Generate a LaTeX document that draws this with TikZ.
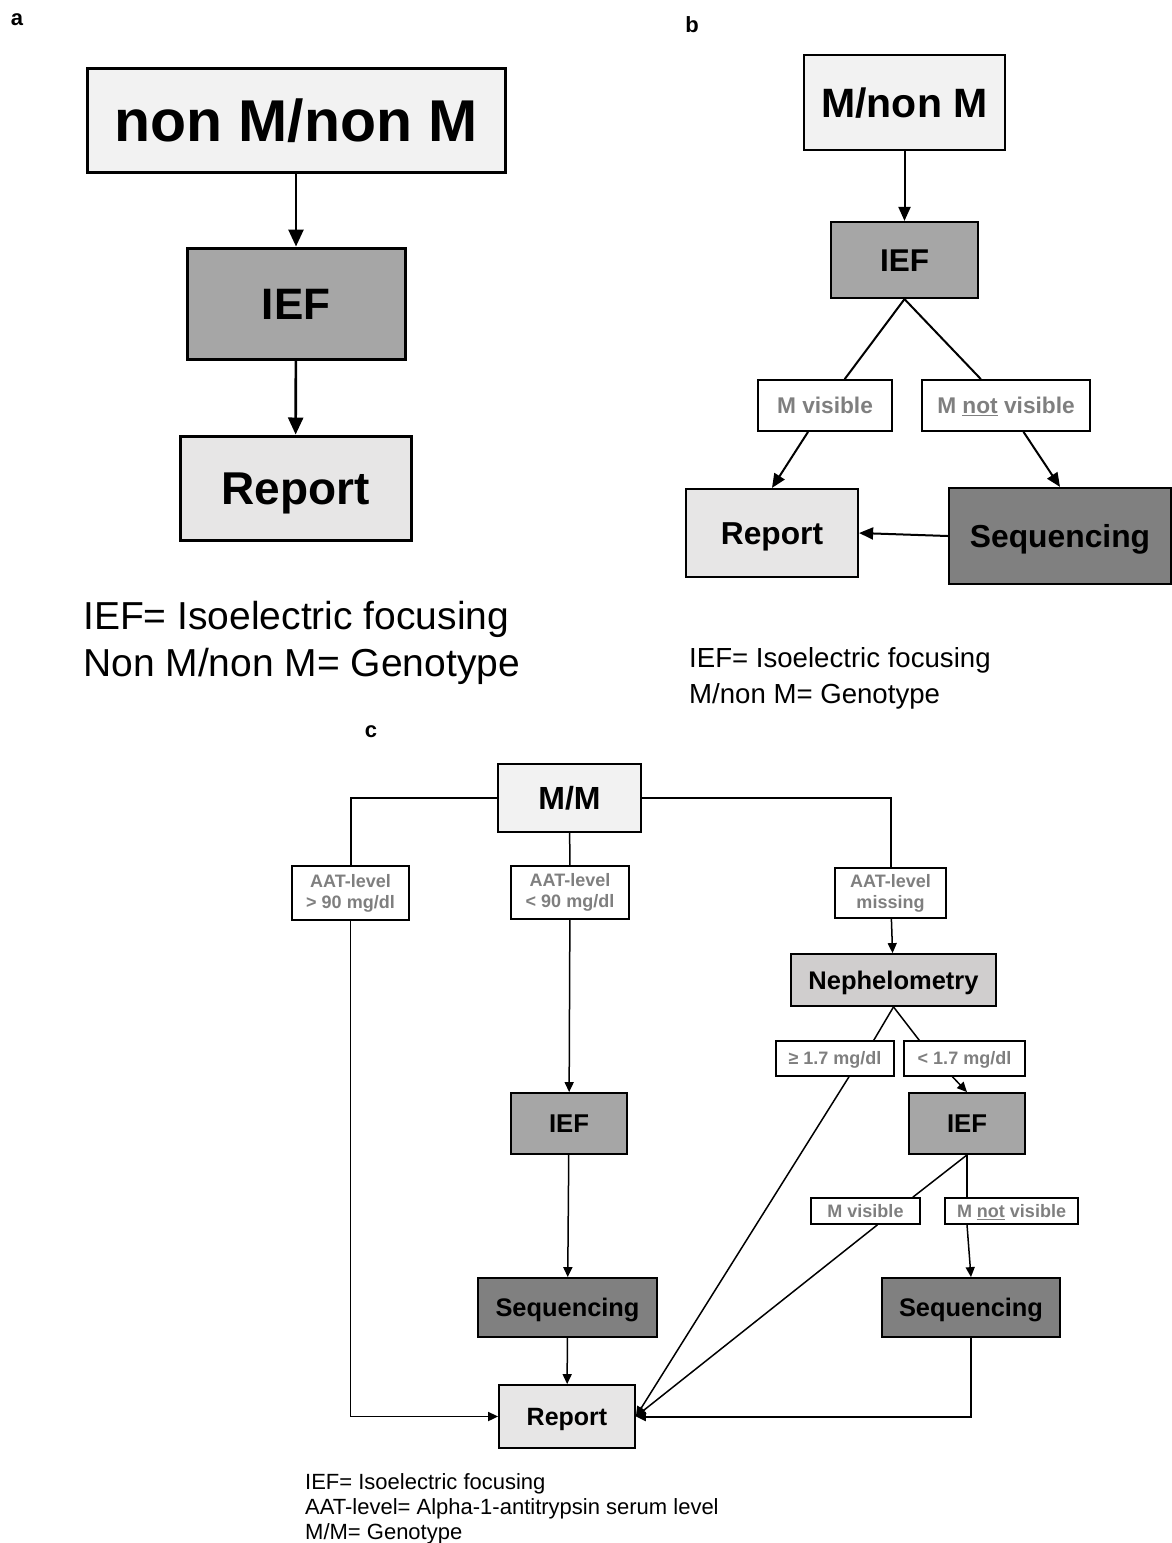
\documentclass[tikz,border=0pt]{standalone}
\usepackage{fontspec}
\setmainfont{Liberation Sans}
\usepackage{xcolor}
\usepackage{tikz}
\usetikzlibrary{arrows.meta, positioning, calc}
\definecolor{boxlight}{HTML}{F2F2F2}
\definecolor{boxreport}{HTML}{E7E6E6}
\definecolor{boxief}{HTML}{A6A6A6}
\definecolor{boxseq}{HTML}{808080}
\definecolor{boxneph}{HTML}{D0CECE}
\definecolor{labelgray}{HTML}{7F7F7F}
\newcommand{\setfs}[2]{\fontsize{#1}{#2}\selectfont}
\tikzset{
  flowbox/.style={draw, inner sep=0pt, align=center, text height=0.72em, text depth=0pt},
  condbox/.style={draw, fill=white, inner sep=0pt, align=center, text=labelgray},
  capmid/.style={text height=0.72em, text depth=0pt},
  panellabel/.style={node font=\bfseries\setfs{22}{26}},
}

\begin{document}
\begin{tikzpicture}[x=1pt, y=-1pt]
    \useasboundingbox (0,0) rectangle (1172,1543);

    % Panel a
    \node[panellabel] (laba) at (17,20) {a};
    \begin{scope}[every node/.append style={line width=3pt},
                  >={Triangle[length=17pt,width=15pt]}]
    \node[node font=\bfseries\setfs{59}{70}, flowbox, fill=boxlight, minimum width=418pt, minimum height=104pt] (nonm) at (296,120) {non M/non M};
    \node[node font=\bfseries\setfs{44}{52}, flowbox, fill=boxief, minimum width=218pt, minimum height=111pt] (iefa) at (296,303.5) {IEF};
    \node[node font=\bfseries\setfs{46}{54}, flowbox, fill=boxreport, minimum width=231pt, minimum height=104pt] (repa) at (295.5,488) {Report};
    \draw[->, line width=2.6pt] (nonm) -- (iefa);
    \draw[->, line width=2.6pt] (iefa) -- (repa);
    \end{scope}
    \node[anchor=west, align=left, inner sep=0pt, node font=\setfs{39}{47}] (lega) at (83,643) {IEF= Isoelectric focusing\\Non M/non M= Genotype};

    % Panel b
    \node[panellabel] (labb) at (692,25) {b};
    \begin{scope}[every node/.append style={line width=2.2pt},
                  >={Triangle[length=14pt,width=12pt]}]
    \node[node font=\bfseries\setfs{41}{48}, flowbox, fill=boxlight, minimum width=201pt, minimum height=95pt] (mnonm) at (904.5,102.5) {M/non M};
    \node[node font=\bfseries\setfs{31.5}{38}, flowbox, fill=boxief, minimum width=147pt, minimum height=76pt] (iefb) at (904.5,260) {IEF};
    \node[node font=\bfseries\setfs{22.7}{27}, condbox, capmid, line width=1.8pt, minimum width=134pt, minimum height=51pt] (mvisb) at (825,405.5) {M visible};
    \node[node font=\bfseries\setfs{22.7}{27}, condbox, capmid, line width=1.8pt, minimum width=168pt, minimum height=51pt] (mnotb) at (1006,405.5) {M \underline{not} visible};
    \node[node font=\bfseries\setfs{31.7}{38}, flowbox, fill=boxreport, minimum width=172pt, minimum height=88pt] (repb) at (772,533) {Report};
    \node[node font=\bfseries\setfs{31.8}{38}, flowbox, fill=boxseq, minimum width=222pt, minimum height=96pt] (seqb) at (1060,536) {Sequencing};
    \draw[->, line width=2pt] (mnonm) -- (iefb);
    \draw[line width=2pt] (iefb.south) -- (mvisb);
    \draw[line width=2pt] (iefb.south) -- (mnotb);
    \draw[->, line width=2pt] (mvisb) -- (repb.north);
    \draw[->, line width=2pt] (mnotb) -- (seqb.north);
    \draw[->, line width=2pt] (seqb.west) -- (repb.east);
    \end{scope}
    \node[anchor=west, align=left, inner sep=0pt, node font=\setfs{27.6}{36}] (legb) at (689,678) {IEF= Isoelectric focusing\\M/non M= Genotype};

    % Panel c
    \node[panellabel] (labc) at (371,732) {c};
    \begin{scope}[every node/.append style={line width=1.8pt},
                  >={Triangle[length=10pt,width=9pt]}]
    \node[node font=\bfseries\setfs{32}{38}, flowbox, fill=boxlight, minimum width=143pt, minimum height=68pt] (mm) at (569.5,798) {M/M};
    \node[node font=\bfseries\setfs{18}{21}, condbox, line width=1.5pt, minimum width=117pt, minimum height=54pt] (agt) at (350.5,893) {AAT-level\\> 90 mg/dl};
    \node[node font=\bfseries\setfs{18}{21}, condbox, line width=1.5pt, minimum width=118pt, minimum height=53pt] (alt) at (570,892.5) {AAT-level\\< 90 mg/dl};
    \node[node font=\bfseries\setfs{18}{21}, condbox, line width=1.5pt, minimum width=111pt, minimum height=50pt] (amiss) at (890.5,893) {AAT-level\\missing};
    \node[node font=\bfseries\setfs{25.5}{30}, flowbox, fill=boxneph, minimum width=205pt, minimum height=52pt] (neph) at (893.5,980) {Nephelometry};
    \node[node font=\bfseries\setfs{18}{21}, condbox, capmid, line width=1.5pt, minimum width=118pt, minimum height=35pt] (ge) at (835,1058.5) {≥ 1.7 mg/dl};
    \node[node font=\bfseries\setfs{18}{21}, condbox, capmid, line width=1.5pt, minimum width=121pt, minimum height=35pt] (lt) at (964.5,1058.5) {< 1.7 mg/dl};
    \node[node font=\bfseries\setfs{25.7}{30}, flowbox, fill=boxief, minimum width=116pt, minimum height=61pt] (iefc) at (569,1123.5) {IEF};
    \node[node font=\bfseries\setfs{25.7}{30}, flowbox, fill=boxief, minimum width=116pt, minimum height=61pt] (iefd) at (967,1123.5) {IEF};
    \node[node font=\bfseries\setfs{18}{21}, condbox, capmid, line width=1.5pt, minimum width=109pt, minimum height=26pt] (mvc) at (865.5,1211) {M visible};
    \node[node font=\bfseries\setfs{18}{21}, condbox, capmid, line width=1.5pt, minimum width=133pt, minimum height=26pt] (mnc) at (1011.5,1211) {M \underline{not} visible};
    \node[node font=\bfseries\setfs{25.4}{30}, flowbox, fill=boxseq, minimum width=179pt, minimum height=59pt] (seqc) at (567.5,1307.5) {Sequencing};
    \node[node font=\bfseries\setfs{25.4}{30}, flowbox, fill=boxseq, minimum width=178pt, minimum height=59pt] (seqd) at (971,1307.5) {Sequencing};
    \node[node font=\bfseries\setfs{25}{30}, flowbox, fill=boxreport, minimum width=136pt, minimum height=63pt] (repc) at (567,1416.5) {Report};

    % left branch
    \draw[line width=2pt] (mm.west) -| (agt.north);
    \draw[->, line width=1.8pt] (agt.south) |- (repc.west);
    % middle branch
    \draw[line width=1.5pt] (mm) -- (alt);
    \draw[->, line width=1.5pt] (alt) -- (iefc);
    \draw[->, line width=1.5pt] (iefc) -- (seqc);
    \draw[->, line width=1.5pt] (seqc) -- (repc);
    % right branch
    \draw[line width=2pt] (mm.east) -| (amiss.north);
    \draw[->, line width=1.5pt] (amiss) -- (neph);
    \draw[line width=1.5pt] (neph.south) -- ($(ge.north east)+(-21,0)$);
    \draw[line width=1.5pt] (neph.south) -- ($(lt.north west)+(16,0)$);
    \draw[->, line width=1.5pt] ($(lt.south)+(-12,0)$) -- (iefd.north);
    \draw[->, line width=1.5pt] ($(ge.south)+(14,0)$) -- (repc.east);
    \draw[line width=1.5pt] (iefd.south) -- ($(mvc.north east)+(-8,0)$);
    \draw[line width=1.5pt] (iefd.south) -- (iefd.south |- mnc.north);
    \draw[->, line width=1.5pt] (iefd.south |- mnc.south) -- (seqd.north);
    \draw[->, line width=1.5pt] ($(mvc.south)+(12,0)$) -- (repc.east);
    \draw[->, line width=2pt] (seqd.south) |- (repc.east);
    \end{scope}
    \node[anchor=west, align=left, inner sep=0pt, node font=\setfs{22}{25}] (legc) at (305,1509) {IEF= Isoelectric focusing\\AAT-level= Alpha-1-antitrypsin serum level\\M/M= Genotype};
\end{tikzpicture}
\end{document}
